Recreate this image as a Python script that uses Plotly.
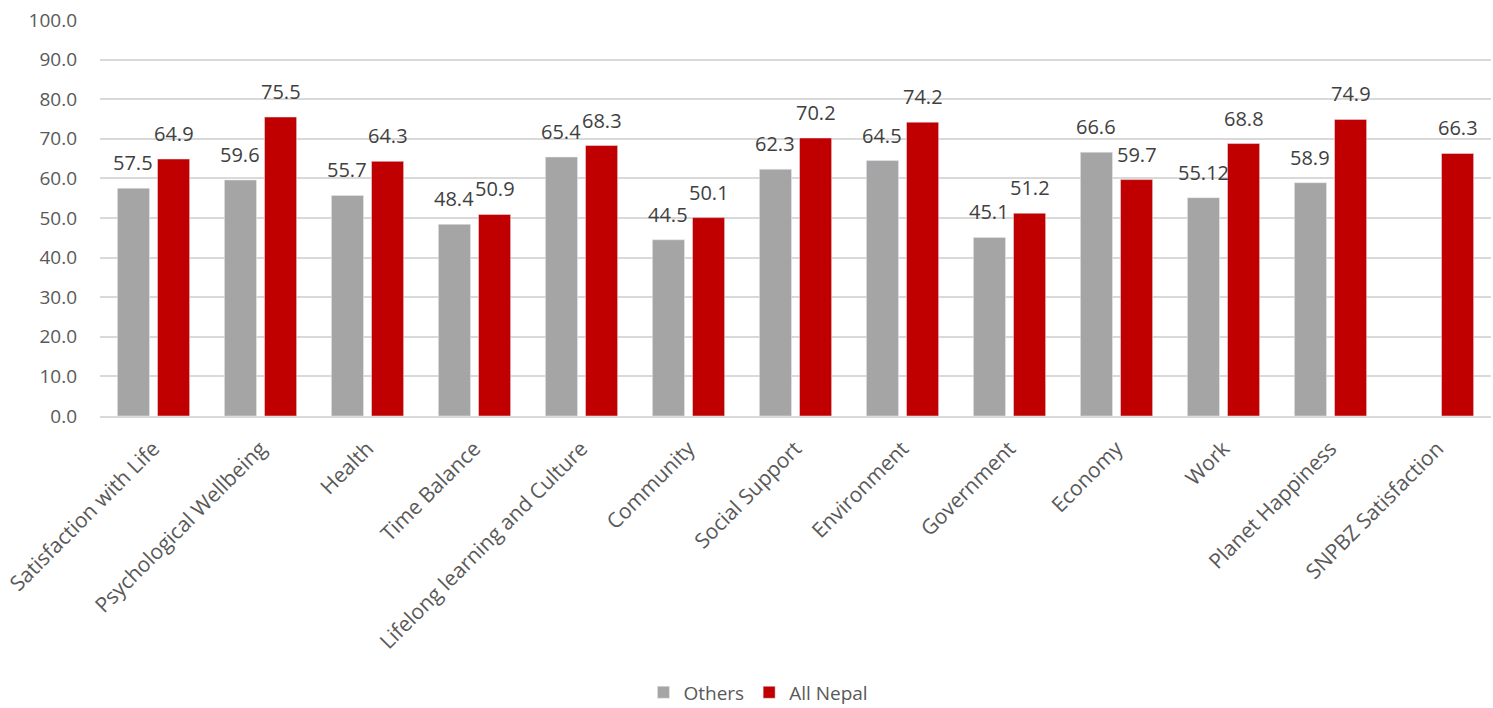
import plotly.graph_objects as go

categories = [
    "Satisfaction with Life", "Psychological Wellbeing", "Health", "Time Balance",
    "Lifelong learning and Culture", "Community", "Social Support", "Environment",
    "Government", "Economy", "Work", "Planet Happiness", "SNPBZ Satisfaction",
]
others = [57.5, 59.6, 55.7, 48.4, 65.4, 44.5, 62.3, 64.5, 45.1, 66.6, 55.12, 58.9, None]
all_nepal = [64.9, 75.5, 64.3, 50.9, 68.3, 50.1, 70.2, 74.2, 51.2, 59.7, 68.8, 74.9, 66.3]
y_ticks = [0, 10, 20, 30, 40, 50, 60, 70, 80, 90, 100]

FONT = "Open Sans"
TEXT = "#595959"
LABEL = "#404040"
BARGAP, GROUPGAP = 0.25, 0.2
L_MARGIN, R_MARGIN, WIDTH = 100, 2, 1493

fig = go.Figure()
fig.add_trace(go.Bar(x=categories, y=others, name="Others", marker_color="#a5a5a5"))
fig.add_trace(go.Bar(x=categories, y=all_nepal, name="All Nepal", marker_color="#c00000"))

# value labels floating a little above each bar
cat_w = (WIDTH - L_MARGIN - R_MARGIN) / len(categories)
slot_off = (1 - BARGAP) * cat_w / 4
for series, shift in ((others, -slot_off), (all_nepal, slot_off)):
    for cat, v in zip(categories, series):
        if v is None:
            continue
        fig.add_annotation(x=cat, y=v, text=f"{v:g}", showarrow=False,
                           xshift=shift, yanchor="bottom", yshift=10,
                           font=dict(size=20, color=LABEL, family=FONT))

fig.update_layout(
    width=WIDTH, height=708,
    margin=dict(l=L_MARGIN, r=R_MARGIN, t=20, b=292),
    plot_bgcolor="white", paper_bgcolor="white",
    barmode="group", bargap=BARGAP, bargroupgap=GROUPGAP,
    font=dict(family=FONT, color=TEXT, size=18),
    legend=dict(orientation="h", xref="container", yref="container",
                x=0.508, xanchor="center", y=0.022, yanchor="middle",
                font=dict(size=19, color=TEXT), traceorder="normal"),
)
fig.update_xaxes(tickangle=-45, tickfont=dict(size=21, color=TEXT), showline=True,
                 linecolor="#d9d9d9", linewidth=2, ticks="", ticklabelstandoff=10)
fig.update_yaxes(range=[0, 100], tickvals=y_ticks, ticktext=[f"{v:.1f}" for v in y_ticks],
                 tickfont=dict(size=19, color=TEXT), gridcolor="#d9d9d9", gridwidth=2,
                 zeroline=False, ticks="", ticklabelstandoff=22)

fig.write_html("out.html")
